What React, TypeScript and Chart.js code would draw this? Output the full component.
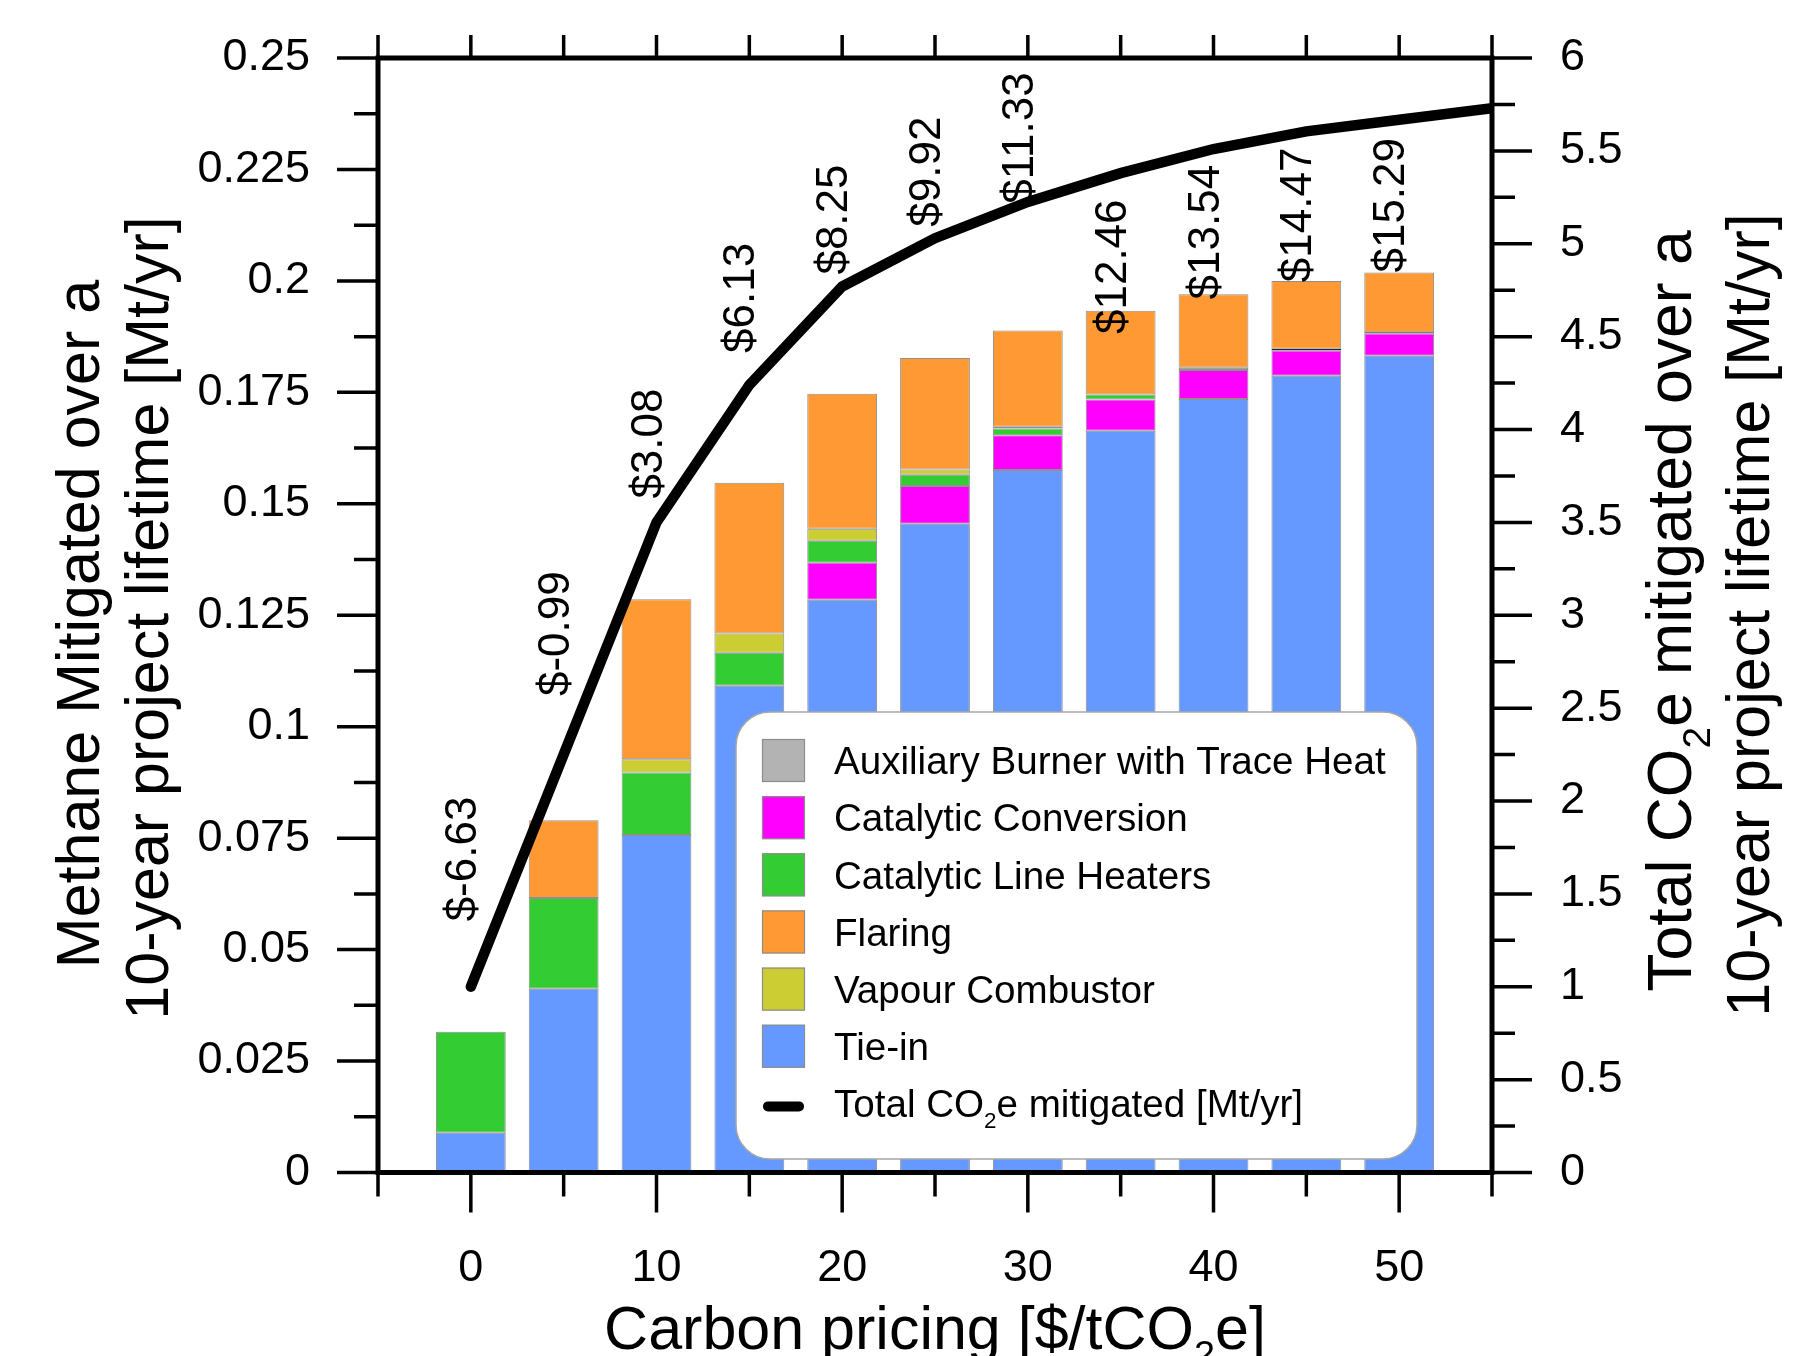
import React, { useEffect, useRef } from 'react';
import { Chart, registerables } from 'chart.js';

Chart.register(...registerables);

const FONT = '"Liberation Sans", Arial, Helvetica, sans-serif';

// ---- data ----
const carbonPrice = [0, 5, 10, 15, 20, 25, 30, 35, 40, 45, 50];
const tieIn = [0.0089, 0.0412, 0.0757, 0.1092, 0.1285, 0.1455, 0.1576, 0.1664, 0.1735, 0.1787, 0.1832];
const catalyticConversion = [null, null, null, null, 0.0083, 0.0085, 0.0078, 0.007, 0.0065, 0.0057, 0.005];
const auxiliaryBurner = [null, null, null, null, null, null, null, null, null, 0.0004, 0.0003];
const catalyticLineHeaters = [0.0227, 0.0204, 0.014, 0.0074, 0.0049, 0.0025, 0.0015, 0.0011, 0.0005, null, null];
const vapourCombustor = [null, null, 0.003, 0.0043, 0.0027, 0.0012, 0.0004, null, null, null, null];
const flaring = [null, 0.0174, 0.0359, 0.0338, 0.0303, 0.025, 0.0216, 0.0188, 0.0165, 0.0152, 0.0134];

const linePrice = [0, 5, 10, 15, 20, 25, 30, 35, 40, 45, 50, 55];
const totalCO2e = [1.0, 2.25, 3.5, 4.24, 4.77, 5.03, 5.225, 5.38, 5.51, 5.605, 5.668, 5.73];

const costLabels = ['$-6.63', '$-0.99', '$3.08', '$6.13', '$8.25', '$9.92', '$11.33', '$12.46', '$13.54', '$14.47', '$15.29'];
// where each rotated cost label starts, in right-axis units
const costLabelAnchor = [1.352, 2.565, 3.628, 4.412, 4.834, 5.092, 5.216, 4.514, 4.7, 4.793, 4.845];

const leftTickStep = 0.025;
const rightTickStep = 0.5;
const xTickStep = 5;

const COLORS = {
  aux: '#b3b3b3',
  conv: '#ff00ff',
  line: '#33cc33',
  flare: '#ff9933',
  vapour: '#cccc33',
  tie: '#6699ff',
};

const legendItems = [
  { label: 'Auxiliary Burner with Trace Heat', color: COLORS.aux },
  { label: 'Catalytic Conversion', color: COLORS.conv },
  { label: 'Catalytic Line Heaters', color: COLORS.line },
  { label: 'Flaring', color: COLORS.flare },
  { label: 'Vapour Combustor', color: COLORS.vapour },
  { label: 'Tie-in', color: COLORS.tie },
];

type Part = { t: string; sub?: boolean };

function drawRich(
  ctx: CanvasRenderingContext2D,
  parts: Part[],
  x: number,
  y: number,
  size: number,
  align: 'center' | 'left',
  subScale = 0.62,
  subDrop = 0.3
) {
  const subSize = size * subScale;
  const widths: number[] = [];
  let total = 0;
  parts.forEach((p) => {
    ctx.font = `${p.sub ? subSize : size}px ${FONT}`;
    const w = ctx.measureText(p.t).width;
    widths.push(w);
    total += w;
  });
  let cx = align === 'center' ? x - total / 2 : x;
  ctx.textAlign = 'left';
  ctx.textBaseline = 'alphabetic';
  parts.forEach((p, i) => {
    ctx.font = `${p.sub ? subSize : size}px ${FONT}`;
    ctx.fillText(p.t, cx, y + (p.sub ? size * subDrop : 0));
    cx += widths[i];
  });
}

function drawRotated(ctx: CanvasRenderingContext2D, parts: Part[], x: number, y: number, size: number) {
  ctx.save();
  ctx.translate(x, y);
  ctx.rotate(-Math.PI / 2);
  drawRich(ctx, parts, 0, 0, size, 'center');
  ctx.restore();
}

const decorPlugin = {
  id: 'decor',
  afterDatasetsDraw(chart: any) {
    const { ctx, chartArea: a, scales } = chart;
    const xs = scales.x;
    const ys = scales.y;
    const y2 = scales.y2;
    ctx.save();

    // cost labels
    ctx.fillStyle = '#000';
    ctx.font = `44px ${FONT}`;
    ctx.textAlign = 'left';
    ctx.textBaseline = 'middle';
    costLabels.forEach((t, i) => {
      const px = xs.getPixelForValue(carbonPrice[i]) - 7;
      const py = y2.getPixelForValue(costLabelAnchor[i]);
      ctx.save();
      ctx.translate(px, py);
      ctx.rotate(-Math.PI / 2);
      ctx.fillText(t, 0, 0);
      ctx.restore();
    });

    // tick marks
    ctx.strokeStyle = '#000';
    ctx.lineWidth = 3.5;
    ctx.lineCap = 'butt';
    ctx.beginPath();
    const nLeft = Math.round(0.25 / (leftTickStep / 2));
    for (let i = 0; i <= nLeft; i++) {
      const py = ys.getPixelForValue((i * leftTickStep) / 2);
      const len = i % 2 === 0 ? 41 : 24;
      ctx.moveTo(a.left, py);
      ctx.lineTo(a.left - len, py);
    }
    const nRight = Math.round(6 / (rightTickStep / 2));
    for (let i = 0; i <= nRight; i++) {
      const py = y2.getPixelForValue((i * rightTickStep) / 2);
      const len = i % 2 === 0 ? 40 : 23;
      ctx.moveTo(a.right, py);
      ctx.lineTo(a.right + len, py);
    }
    for (let v = -5; v <= 55; v += xTickStep) {
      const px = xs.getPixelForValue(v);
      const major = v % 10 === 0 && v >= 0 && v <= 50;
      ctx.moveTo(px, a.bottom);
      ctx.lineTo(px, a.bottom + (major ? 40 : 24));
      ctx.moveTo(px, a.top);
      ctx.lineTo(px, a.top - 23);
    }
    ctx.stroke();

    // frame
    ctx.lineWidth = 5;
    ctx.lineJoin = 'miter';
    ctx.strokeRect(a.left, a.top, a.right - a.left, a.bottom - a.top);

    // legend box
    const L = { x: 736, y: 712, w: 681, h: 447, r: 34 };
    ctx.beginPath();
    (ctx as any).roundRect(L.x, L.y, L.w, L.h, L.r);
    ctx.fillStyle = '#ffffff';
    ctx.fill();
    ctx.strokeStyle = '#a6a6a6';
    ctx.lineWidth = 1.5;
    ctx.stroke();

    const rowH = 57.15;
    const sw = 43;
    const swX = 762;
    const firstTop = 739;
    const txtX = 834;
    const lf = 38.6;
    legendItems.forEach((it, i) => {
      const top = firstTop + i * rowH;
      ctx.fillStyle = it.color;
      ctx.fillRect(swX, top, sw, sw);
      ctx.strokeStyle = '#8c8c8c';
      ctx.lineWidth = 1.2;
      ctx.strokeRect(swX + 0.5, top + 0.5, sw - 1, sw - 1);
      ctx.fillStyle = '#000';
      drawRich(ctx, [{ t: it.label }], txtX, top + sw / 2 + 0.358 * lf, lf, 'left');
    });
    const lastCenter = firstTop + 6 * rowH + sw / 2;
    ctx.strokeStyle = '#000';
    ctx.lineWidth = 10;
    ctx.lineCap = 'round';
    ctx.beginPath();
    ctx.moveTo(swX + 6, lastCenter + 3);
    ctx.lineTo(swX + sw - 6, lastCenter + 3);
    ctx.stroke();
    ctx.lineCap = 'butt';
    ctx.fillStyle = '#000';
    drawRich(
      ctx,
      [{ t: 'Total CO' }, { t: '2', sub: true }, { t: 'e mitigated [Mt/yr]' }],
      txtX,
      lastCenter + 0.358 * lf,
      lf,
      'left',
      0.58,
      0.27
    );

    // axis titles
    const tf = 61;
    ctx.fillStyle = '#000';
    drawRich(ctx, [{ t: 'Carbon pricing [$/tCO' }, { t: '2', sub: true }, { t: 'e]' }], (a.left + a.right) / 2, 1349, tf, 'center');
    drawRotated(ctx, [{ t: 'Methane Mitigated over a' }], 99, 624, tf);
    drawRotated(ctx, [{ t: '10-year project lifetime [Mt/yr]' }], 168, 618, tf);
    drawRotated(ctx, [{ t: 'Total CO' }, { t: '2', sub: true }, { t: 'e mitigated over a' }], 1691, 611, 62.5);
    drawRotated(ctx, [{ t: '10-year project lifetime [Mt/yr]' }], 1769, 615, tf);

    ctx.restore();
  },
};

function barDs(label: string, values: (number | null)[], color: string, border = 'rgba(70,70,70,0.6)') {
  return {
    type: 'bar' as const,
    label,
    data: carbonPrice.map((x, i) => ({ x, y: values[i] })),
    backgroundColor: color,
    borderColor: border,
    borderWidth: 1,
    borderSkipped: false,
    stack: 's',
    yAxisID: 'y',
    xAxisID: 'x',
    order: 1,
    barPercentage: 0.752,
    categoryPercentage: 1,
  };
}

export default function App() {
  const ref = useRef<HTMLCanvasElement>(null);

  useEffect(() => {
    document.body.style.margin = '0';
    const tickFont = { family: FONT, size: 45 };
    const gridOpts = {
      display: true,
      drawOnChartArea: false,
      drawTicks: true,
      tickLength: 40,
      tickColor: 'rgba(0,0,0,0)',
    };
    const chart = new Chart(ref.current as HTMLCanvasElement, {
      type: 'bar',
      data: {
        datasets: [
          {
            type: 'line',
            label: 'Total CO2e mitigated [Mt/yr]',
            data: linePrice.map((x, i) => ({ x, y: totalCO2e[i] })),
            borderColor: '#000',
            backgroundColor: '#000',
            borderWidth: 10.5,
            borderCapStyle: 'round',
            borderJoinStyle: 'miter',
            pointRadius: 0,
            tension: 0,
            fill: false,
            yAxisID: 'y2',
            xAxisID: 'x',
            order: 0,
          } as any,
          barDs('Tie-in', tieIn, COLORS.tie),
          barDs('Catalytic Conversion', catalyticConversion, COLORS.conv),
          barDs('Auxiliary Burner with Trace Heat', auxiliaryBurner, COLORS.aux, '#222'),
          barDs('Catalytic Line Heaters', catalyticLineHeaters, COLORS.line),
          barDs('Vapour Combustor', vapourCombustor, COLORS.vapour),
          barDs('Flaring', flaring, COLORS.flare),
        ] as any,
      },
      options: {
        responsive: false,
        animation: false,
        devicePixelRatio: 1,
        events: [],
        layout: { padding: { top: 58, left: 0, right: 0, bottom: 0 } },
        plugins: {
          legend: { display: false },
          tooltip: { enabled: false },
          title: { display: false },
        },
        scales: {
          x: {
            type: 'linear',
            position: 'bottom',
            min: -5,
            max: 55,
            offset: false,
            afterFit: (s: any) => {
              s.height = 183.5;
            },
            grid: { ...gridOpts, offset: false },
            border: { display: false },
            ticks: {
              stepSize: xTickStep,
              autoSkip: false,
              maxRotation: 0,
              minRotation: 0,
              padding: 29,
              color: '#000',
              font: tickFont,
              callback: (v: any) => (v % 10 === 0 && v >= 0 && v <= 50 ? String(v) : ''),
            },
          },
          y: {
            type: 'linear',
            position: 'left',
            min: 0,
            max: 0.25,
            stacked: true,
            afterFit: (s: any) => {
              s.width = 378;
            },
            grid: gridOpts,
            border: { display: false },
            ticks: {
              stepSize: leftTickStep,
              padding: 28,
              color: '#000',
              font: tickFont,
              callback: (v: any) => String(Number(Number(v).toFixed(4))),
            },
          },
          y2: {
            type: 'linear',
            position: 'right',
            min: 0,
            max: 6,
            afterFit: (s: any) => {
              s.width = 305;
            },
            grid: gridOpts,
            border: { display: false },
            ticks: {
              stepSize: rightTickStep,
              padding: 28,
              color: '#000',
              font: tickFont,
              callback: (v: any) => String(Number(Number(v).toFixed(2))),
            },
          },
        },
      } as any,
      plugins: [decorPlugin],
    });
    return () => chart.destroy();
  }, []);

  return (
    <div style={{ width: 1797, height: 1356, background: '#ffffff' }}>
      <canvas ref={ref} width={1797} height={1356} style={{ display: 'block', width: 1797, height: 1356 }} />
    </div>
  );
}
